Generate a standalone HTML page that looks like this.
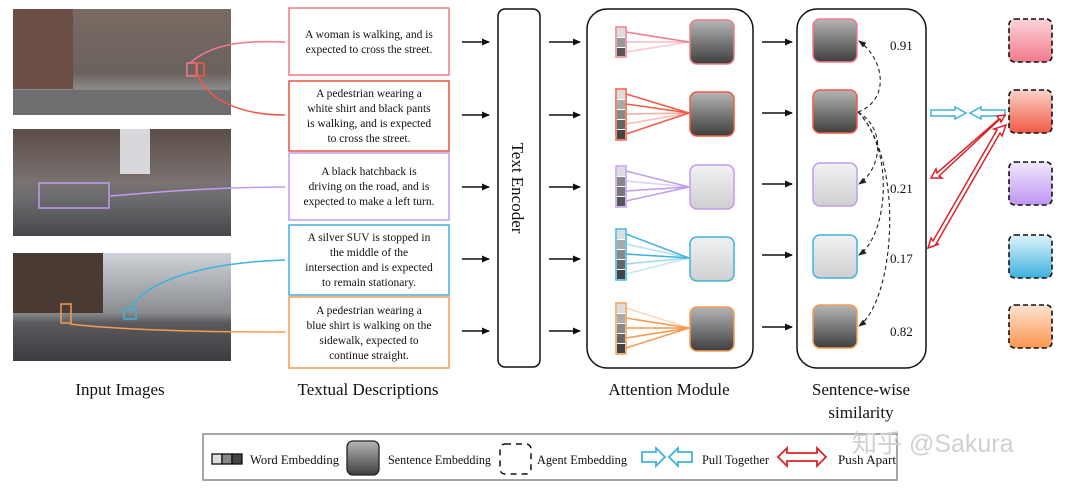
<!DOCTYPE html>
<html><head><meta charset="utf-8"><style>
body{margin:0;background:#fff;width:1080px;height:487px;overflow:hidden}
svg text{font-family:"Liberation Serif",serif;fill:#111}
</style></head><body>
<svg width="1080" height="487" viewBox="0 0 1080 487" xmlns="http://www.w3.org/2000/svg">
<defs>
<linearGradient id="dk" x1="0" y1="0" x2="0" y2="1"><stop offset="0" stop-color="#b5b5b5"/><stop offset="1" stop-color="#3e3e3e"/></linearGradient>
<linearGradient id="lt" x1="0" y1="0" x2="0" y2="1"><stop offset="0" stop-color="#f2f2f2"/><stop offset="1" stop-color="#cfcfcf"/></linearGradient>
<linearGradient id="a1" x1="0" y1="0" x2="0" y2="1"><stop offset="0" stop-color="#fcd3da"/><stop offset="1" stop-color="#f37a8c"/></linearGradient>
<linearGradient id="a2" x1="0" y1="0" x2="0" y2="1"><stop offset="0" stop-color="#fbd0c7"/><stop offset="1" stop-color="#f05a45"/></linearGradient>
<linearGradient id="a3" x1="0" y1="0" x2="0" y2="1"><stop offset="0" stop-color="#f1e8fc"/><stop offset="1" stop-color="#be95f2"/></linearGradient>
<linearGradient id="a4" x1="0" y1="0" x2="0" y2="1"><stop offset="0" stop-color="#def3fb"/><stop offset="1" stop-color="#3fb2de"/></linearGradient>
<linearGradient id="a5" x1="0" y1="0" x2="0" y2="1"><stop offset="0" stop-color="#fde3d0"/><stop offset="1" stop-color="#fb9650"/></linearGradient>
<linearGradient id="sky" x1="0" y1="0" x2="0" y2="1"><stop offset="0" stop-color="#7a6a62"/><stop offset="0.6" stop-color="#6a625e"/><stop offset="0.75" stop-color="#8a8888"/><stop offset="1" stop-color="#555"/></linearGradient>
<linearGradient id="sky2" x1="0" y1="0" x2="0" y2="1"><stop offset="0" stop-color="#5c4e48"/><stop offset="0.5" stop-color="#7a7270"/><stop offset="0.65" stop-color="#6b6b6e"/><stop offset="1" stop-color="#48484c"/></linearGradient>
<linearGradient id="sky3" x1="0" y1="0" x2="0" y2="1"><stop offset="0" stop-color="#cfd3d8"/><stop offset="0.55" stop-color="#8a8c90"/><stop offset="0.65" stop-color="#5a5a5e"/><stop offset="1" stop-color="#3c3c40"/></linearGradient>
<marker id="ar" markerWidth="8" markerHeight="8" refX="7" refY="4" orient="auto" markerUnits="userSpaceOnUse"><path d="M0,0.5 L8,4 L0,7.5z" fill="#111"/></marker>
<marker id="ad" markerWidth="8" markerHeight="8" refX="7" refY="4" orient="auto" markerUnits="userSpaceOnUse"><path d="M0,1 L8,4 L0,7z" fill="#222"/></marker>
</defs>

<rect x="13" y="9" width="218" height="106" fill="url(#sky)"/>
<rect x="13" y="9" width="60" height="80" fill="#6b4f47"/>
<rect x="13" y="90" width="218" height="25" fill="#6e6e70"/>
<rect x="13" y="129" width="218" height="107" fill="url(#sky2)"/>
<rect x="120" y="129" width="30" height="45" fill="#d8d8dc"/>
<rect x="13" y="253" width="218" height="108" fill="url(#sky3)"/>
<rect x="13" y="253" width="90" height="60" fill="#4a3a34"/>
<rect x="187" y="63" width="10" height="13" fill="none" stroke="#f07a8c" stroke-width="1.5"/>
<rect x="196" y="63" width="8" height="13" fill="none" stroke="#ef5a45" stroke-width="1.5"/>
<rect x="39" y="183" width="70" height="25" fill="none" stroke="#c09cf0" stroke-width="1.5"/>
<rect x="61" y="304" width="10" height="19" fill="none" stroke="#f79a50" stroke-width="1.5"/>
<rect x="124" y="309" width="12" height="10" fill="none" stroke="#3fb2de" stroke-width="1.5"/>
<path d="M190,63 C210,45 240,40 285,42" fill="none" stroke="#f07a8c" stroke-width="1.5"/>
<path d="M198,77 C210,100 240,115 285,115" fill="none" stroke="#ef5a45" stroke-width="1.5"/>
<path d="M110,196 C180,190 230,187 285,187" fill="none" stroke="#c09cf0" stroke-width="1.5"/>
<path d="M130,309 C150,275 220,262 285,260" fill="none" stroke="#3fb2de" stroke-width="1.5"/>
<path d="M70,324 C130,331 220,332 285,332" fill="none" stroke="#f79a50" stroke-width="1.5"/>

<g font-size="11.5" text-anchor="middle">
<rect x="289" y="8" width="160" height="67" fill="#fff" stroke="#f07a8c" stroke-width="1.5"/>
<text x="369" y="38">A woman is walking, and is</text><text x="369" y="53">expected to cross the street.</text>
<rect x="289" y="81" width="160" height="70" fill="#fff" stroke="#e5533f" stroke-width="1.5"/>
<text x="369" y="97">A pedestrian wearing a</text><text x="369" y="112">white shirt and black pants</text><text x="369" y="127">is walking, and is expected</text><text x="369" y="142">to cross the street.</text>
<rect x="289" y="153" width="160" height="67" fill="#fff" stroke="#c09cf0" stroke-width="1.5"/>
<text x="369" y="175">A black hatchback is</text><text x="369" y="190">driving on the road, and is</text><text x="369" y="205">expected to make a left turn.</text>
<rect x="289" y="225" width="160" height="70" fill="#fff" stroke="#3fb2de" stroke-width="1.5"/>
<text x="369" y="241">A silver SUV is stopped in</text><text x="369" y="256">the middle of the</text><text x="369" y="271">intersection and is expected</text><text x="369" y="286">to remain stationary.</text>
<rect x="289" y="297" width="160" height="71" fill="#fff" stroke="#f79a50" stroke-width="1.5"/>
<text x="369" y="314">A pedestrian wearing a</text><text x="369" y="329">blue shirt is walking on the</text><text x="369" y="344">sidewalk, expected to</text><text x="369" y="359">continue straight.</text>
</g>

<g stroke="#111" stroke-width="1.6" marker-end="url(#ar)">
<line x1="462" y1="42" x2="489" y2="42"/><line x1="462" y1="115" x2="489" y2="115"/><line x1="462" y1="187" x2="489" y2="187"/><line x1="462" y1="259" x2="489" y2="259"/><line x1="462" y1="331" x2="489" y2="331"/>
<line x1="549" y1="42" x2="580" y2="42"/><line x1="549" y1="115" x2="580" y2="115"/><line x1="549" y1="187" x2="580" y2="187"/><line x1="549" y1="259" x2="580" y2="259"/><line x1="549" y1="331" x2="580" y2="331"/>
<line x1="762" y1="42" x2="792" y2="42"/><line x1="762" y1="113" x2="792" y2="113"/><line x1="762" y1="184" x2="792" y2="184"/><line x1="762" y1="255" x2="792" y2="255"/><line x1="762" y1="327" x2="792" y2="327"/>
</g>

<rect x="498" y="9" width="42" height="358" rx="7" fill="#fff" stroke="#111" stroke-width="1.5"/>
<text transform="translate(512,188) rotate(90)" font-size="17" text-anchor="middle">Text Encoder</text>

<rect x="587" y="9" width="166" height="359" rx="20" fill="#fff" stroke="#111" stroke-width="1.5"/>
<g stroke-width="1.5">
<g stroke="#f07a8c"><rect x="616" y="27" width="10" height="30" fill="#fff"/><rect x="617" y="28" width="8" height="9" fill="#ddd" stroke="none"/><rect x="617" y="38" width="8" height="9" fill="#999" stroke="none"/><rect x="617" y="48" width="8" height="8" fill="#555" stroke="none"/>
<line x1="626" y1="32" x2="689" y2="42"/><line x1="626" y1="42" x2="689" y2="42" opacity=".5"/><line x1="626" y1="52" x2="689" y2="42" opacity=".4"/></g>
<rect x="690" y="20" width="44" height="44" rx="7" fill="url(#dk)" stroke="#f07a8c"/>
<g stroke="#ef5a45"><rect x="616" y="89" width="10" height="51" fill="#fff"/><rect x="617" y="90" width="8" height="9" fill="#ddd" stroke="none"/><rect x="617" y="100" width="8" height="9" fill="#aaa" stroke="none"/><rect x="617" y="110" width="8" height="9" fill="#888" stroke="none"/><rect x="617" y="120" width="8" height="9" fill="#666" stroke="none"/><rect x="617" y="130" width="8" height="9" fill="#444" stroke="none"/>
<line x1="626" y1="94" x2="689" y2="113"/><line x1="626" y1="104" x2="689" y2="113"/><line x1="626" y1="114" x2="689" y2="113" opacity=".5"/><line x1="626" y1="124" x2="689" y2="113" opacity=".4"/><line x1="626" y1="134" x2="689" y2="113"/></g>
<rect x="690" y="92" width="44" height="44" rx="7" fill="url(#dk)" stroke="#ef5a45"/>
<g stroke="#c09cf0"><rect x="616" y="166" width="10" height="41" fill="#fff"/><rect x="617" y="167" width="8" height="9" fill="#ddd" stroke="none"/><rect x="617" y="177" width="8" height="9" fill="#888" stroke="none"/><rect x="617" y="187" width="8" height="9" fill="#777" stroke="none"/><rect x="617" y="197" width="8" height="9" fill="#555" stroke="none"/>
<line x1="626" y1="171" x2="689" y2="187"/><line x1="626" y1="181" x2="689" y2="187" opacity=".5"/><line x1="626" y1="191" x2="689" y2="187"/><line x1="626" y1="201" x2="689" y2="187"/></g>
<rect x="690" y="165" width="44" height="44" rx="7" fill="url(#lt)" stroke="#c09cf0"/>
<g stroke="#3fb2de"><rect x="616" y="229" width="10" height="51" fill="#fff"/><rect x="617" y="230" width="8" height="9" fill="#ddd" stroke="none"/><rect x="617" y="240" width="8" height="9" fill="#aaa" stroke="none"/><rect x="617" y="250" width="8" height="9" fill="#888" stroke="none"/><rect x="617" y="260" width="8" height="9" fill="#666" stroke="none"/><rect x="617" y="270" width="8" height="9" fill="#444" stroke="none"/>
<line x1="626" y1="234" x2="689" y2="258"/><line x1="626" y1="244" x2="689" y2="258" opacity=".4"/><line x1="626" y1="254" x2="689" y2="258"/><line x1="626" y1="264" x2="689" y2="258" opacity=".5"/><line x1="626" y1="274" x2="689" y2="258" opacity=".3"/></g>
<rect x="690" y="237" width="44" height="44" rx="7" fill="url(#lt)" stroke="#3fb2de"/>
<g stroke="#f79a50"><rect x="616" y="303" width="10" height="51" fill="#fff"/><rect x="617" y="304" width="8" height="9" fill="#ddd" stroke="none"/><rect x="617" y="314" width="8" height="9" fill="#aaa" stroke="none"/><rect x="617" y="324" width="8" height="9" fill="#888" stroke="none"/><rect x="617" y="334" width="8" height="9" fill="#666" stroke="none"/><rect x="617" y="344" width="8" height="9" fill="#444" stroke="none"/>
<line x1="626" y1="308" x2="689" y2="328" opacity=".4"/><line x1="626" y1="318" x2="689" y2="328"/><line x1="626" y1="328" x2="689" y2="328"/><line x1="626" y1="338" x2="689" y2="328"/><line x1="626" y1="348" x2="689" y2="328"/></g>
<rect x="690" y="307" width="44" height="44" rx="7" fill="url(#dk)" stroke="#f79a50"/>
</g>

<rect x="797" y="9" width="129" height="359" rx="20" fill="#fff" stroke="#111" stroke-width="1.5"/>
<g stroke-width="1.5">
<rect x="813" y="19" width="44" height="43" rx="7" fill="url(#dk)" stroke="#f07a8c"/>
<rect x="813" y="90" width="44" height="43" rx="7" fill="url(#dk)" stroke="#ef5a45"/>
<rect x="813" y="163" width="44" height="43" rx="7" fill="url(#lt)" stroke="#c09cf0"/>
<rect x="813" y="235" width="44" height="43" rx="7" fill="url(#lt)" stroke="#3fb2de"/>
<rect x="813" y="305" width="44" height="43" rx="7" fill="url(#dk)" stroke="#f79a50"/>
</g>
<g fill="none" stroke="#222" stroke-width="1.1" stroke-dasharray="4,3" marker-end="url(#ad)">
<path d="M858,112 C890,100 885,60 859,41"/>
<path d="M858,112 C888,130 880,170 859,184"/>
<path d="M858,112 C895,150 888,235 859,255"/>
<path d="M858,112 C905,160 895,300 859,326"/>
</g>
<g font-size="13"><text x="890" y="50">0.91</text><text x="890" y="193">0.21</text><text x="890" y="263">0.17</text><text x="890" y="336">0.82</text></g>

<g stroke="#111" stroke-width="1.6" stroke-dasharray="5,3">
<rect x="1009" y="19" width="43" height="43" rx="6" fill="url(#a1)"/>
<rect x="1009" y="90" width="43" height="43" rx="6" fill="url(#a2)"/>
<rect x="1009" y="162" width="43" height="43" rx="6" fill="url(#a3)"/>
<rect x="1009" y="235" width="43" height="43" rx="6" fill="url(#a4)"/>
<rect x="1009" y="305" width="43" height="43" rx="6" fill="url(#a5)"/>
</g>
<g fill="#fff" stroke="#3fb2de" stroke-width="1.5">
<path d="M931,110 L955,110 L955,107 L966,113 L955,119 L955,116 L931,116z"/>
<path d="M1005,110 L981,110 L981,107 L970,113 L981,119 L981,116 L1005,116z"/>
</g>
<g fill="#fff" stroke="#d9232a" stroke-width="1.5">
<path d="M931,178 L936,169 L937,173 L999,119 L997,116 L1005,115 L1001,122 L1000,119 L939,176 L942,178z"/>
<path d="M928,248 L931,238 L933,241 L997,130 L994,129 L1006,125 L1002,136 L1000,133 L936,244 L939,244z"/>
</g>

<g font-size="17" text-anchor="middle">
<text x="120" y="395">Input Images</text>
<text x="368" y="395">Textual Descriptions</text>
<text x="669" y="395">Attention Module</text>
<text x="861" y="395">Sentence-wise</text>
<text x="861" y="418">similarity</text>
</g>

<rect x="203" y="434" width="694" height="46" fill="#fff" stroke="#888" stroke-width="1.5"/>
<g font-size="12.5">
<rect x="212" y="454" width="10" height="10" fill="#ddd" stroke="#111" stroke-width="1.3"/><rect x="222" y="454" width="10" height="10" fill="#888" stroke="#111" stroke-width="1.3"/><rect x="232" y="454" width="10" height="10" fill="#444" stroke="#111" stroke-width="1.3"/>
<text x="250" y="464" textLength="89" lengthAdjust="spacingAndGlyphs">Word Embedding</text>
<rect x="347" y="441" width="32" height="34" rx="6" fill="url(#dk)" stroke="#222" stroke-width="1.3"/>
<text x="388" y="464" textLength="103" lengthAdjust="spacingAndGlyphs">Sentence Embedding</text>
<rect x="500" y="444" width="31" height="30" rx="5" fill="none" stroke="#111" stroke-width="1.5" stroke-dasharray="6,5"/>
<text x="537" y="464" textLength="90" lengthAdjust="spacingAndGlyphs">Agent Embedding</text>
<path d="M642,452 L656,452 L656,448 L665,457 L656,466 L656,462 L642,462z" fill="#fff" stroke="#3fb2de" stroke-width="1.8"/>
<path d="M692,452 L678,452 L678,448 L669,457 L678,466 L678,462 L692,462z" fill="#fff" stroke="#3fb2de" stroke-width="1.8"/>
<text x="702" y="464" textLength="67" lengthAdjust="spacingAndGlyphs">Pull Together</text>
<path d="M778,457 L787,448 L787,453 L817,453 L817,448 L826,457 L817,466 L817,461 L787,461 L787,466z" fill="#fff" stroke="#d9232a" stroke-width="1.8"/>
<text x="838" y="464" textLength="58" lengthAdjust="spacingAndGlyphs">Push Apart</text>
</g>
<text x="852" y="452" font-size="25" style="fill:#d0d0d0;font-family:'Liberation Sans','Noto Sans CJK SC',sans-serif">知乎 @Sakura</text>
</svg>
</body></html>
